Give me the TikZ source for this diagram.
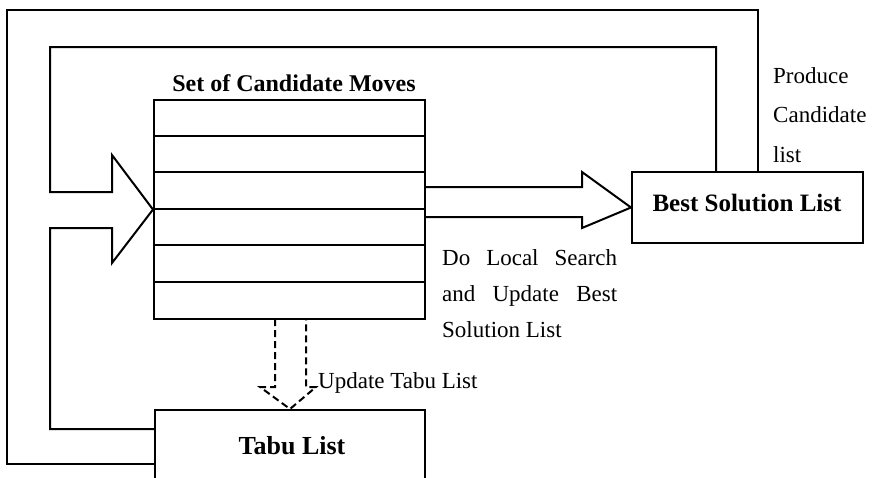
\documentclass[tikz,border=0pt]{standalone}
\usepackage{fontspec}
\setmainfont{Liberation Serif}
\begin{document}
\begin{tikzpicture}[x=1pt,y=-1pt,line join=miter,
  wire/.style={draw=black,line width=2pt},
  box/.style={wire,fill=white,rectangle,inner sep=0pt},
  title/.style={font=\bfseries\fontsize{24}{28}\selectfont,inner sep=0pt,anchor=base},
  label/.style={font=\fontsize{23}{36}\selectfont,inner sep=0pt,anchor=base west}]
\useasboundingbox (0,0) rectangle (876,477);
\clip (0,0) rectangle (876,477);

% boxes
\node[box,minimum width=271pt,minimum height=219pt] (cand) at (289.5,209.5) {};
\node[box,minimum width=231pt,minimum height=71pt] (best) at (747.5,207.5) {};
\node[box,minimum width=270pt,minimum height=90pt] (tabu) at (290,455) {};

% rows of the candidate list
\foreach \k in {1,...,5}
  \draw[wire] ([yshift=-36.5pt*\k]cand.north west) -- ([yshift=-36.5pt*\k]cand.north east);

% anchor points of the feedback loops
\coordinate (outerA) at (758,0);
\coordinate (innerA) at (716,0);

% outer loop: best solution list back to the tabu list
\draw[wire] (best.north -| outerA) -- (758,10) -- (7,10) -- (7,464) -- (tabu.west |- 0,464);
% inner loop: block arrow feeding the candidate list
\draw[wire] (best.north -| innerA) -- (716,47) -- (50,47) -- (50,192) -- (112,192) -- (112,155)
  -- (cand.west) -- (112,263) -- (112,228) -- (50,228) -- (50,429) -- (tabu.west |- 0,429);

% block arrow towards the best solution list
\draw[wire] (cand.east |- 0,187) -- (582,187) -- (582,172) -- (best.west) -- (582,228)
  -- (582,217) -- (cand.east |- 0,217);

% dashed block arrow towards the tabu list
\draw[wire,dashed,dash pattern=on 7pt off 4pt] (275,319) -- (275,387) -- (260,387)
  -- (tabu.north) -- (316,387) -- (306,387) -- (306,319);

% texts (multi-line labels are placed by the baseline of their last line)
\node[title] (tcand) at (294,91) {Set of Candidate Moves};
\node[title,font=\bfseries\fontsize{25}{28}\selectfont] (tbest) at (747,211) {Best Solution List};
\node[title,font=\bfseries\fontsize{26}{28}\selectfont] (ttabu) at (292,454) {Tabu List};
\node[label,align=left,font=\fontsize{23}{39.5}\selectfont] (tprod) at (773,162) {Produce\\Candidate\\list};
\node[label,align=left] (tls) at (442,337)
  {\makebox[175pt][s]{Do Local Search}\\\makebox[175pt][s]{and Update Best}\\Solution List};
\node[label] (tupd) at (318,388) {Update Tabu List};
\end{tikzpicture}
\end{document}
